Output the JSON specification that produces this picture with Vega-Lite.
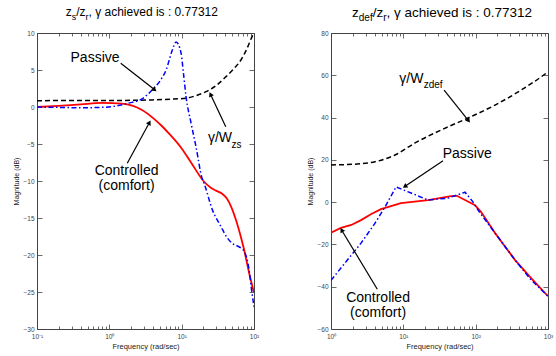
{
  "$schema": "https://vega.github.io/schema/vega-lite/v6.json",
  "background": "white",
  "padding": {"left": 12, "top": 5, "right": 0, "bottom": 0},
  "spacing": 46,
  "config": {
    "font": "Liberation Sans",
    "view": {"stroke": "#444", "strokeWidth": 1},
    "axis": {"domain": false, "grid": false, "tickColor": "#444", "tickWidth": 0.8, "labelFont": "Liberation Sans", "labelFontSize": 6.5, "labelColor": "#444", "titleFont": "Liberation Sans", "titleFontSize": 7, "titleFontWeight": "normal", "titleColor": "#222", "labelFlush": false, "labelPadding": 8, "titlePadding": 3},
    "text": {"font": "Liberation Sans"}
  },
  "datasets": {
    "leftCurves": [
      {"series": "gamma/W", "freq": 0.1, "dB": 0.86},
      {"series": "gamma/W", "freq": 1, "dB": 0.88},
      {"series": "gamma/W", "freq": 3.5, "dB": 0.95},
      {"series": "gamma/W", "freq": 7, "dB": 1.05},
      {"series": "gamma/W", "freq": 11.5, "dB": 1.2},
      {"series": "gamma/W", "freq": 16, "dB": 1.55},
      {"series": "gamma/W", "freq": 21.7, "dB": 2.07},
      {"series": "gamma/W", "freq": 30, "dB": 2.9},
      {"series": "gamma/W", "freq": 41, "dB": 4.1},
      {"series": "gamma/W", "freq": 53, "dB": 5.2},
      {"series": "gamma/W", "freq": 66, "dB": 6.35},
      {"series": "gamma/W", "freq": 80, "dB": 7.9},
      {"series": "gamma/W", "freq": 94, "dB": 9.5},
      {"series": "gamma/W", "freq": 100, "dB": 10.0},
      {"series": "Controlled", "freq": 0.1, "dB": 0.0},
      {"series": "Controlled", "freq": 0.2, "dB": 0.15},
      {"series": "Controlled", "freq": 0.4, "dB": 0.35},
      {"series": "Controlled", "freq": 0.79, "dB": 0.55},
      {"series": "Controlled", "freq": 1.5, "dB": 0.45},
      {"series": "Controlled", "freq": 2.83, "dB": -0.4},
      {"series": "Controlled", "freq": 4.15, "dB": -1.6},
      {"series": "Controlled", "freq": 5.36, "dB": -2.6},
      {"series": "Controlled", "freq": 6.7, "dB": -3.6},
      {"series": "Controlled", "freq": 10, "dB": -5.6},
      {"series": "Controlled", "freq": 14.1, "dB": -7.8},
      {"series": "Controlled", "freq": 20.4, "dB": -10.1},
      {"series": "Controlled", "freq": 25.3, "dB": -10.9},
      {"series": "Controlled", "freq": 29.9, "dB": -11.3},
      {"series": "Controlled", "freq": 36, "dB": -11.7},
      {"series": "Controlled", "freq": 42.4, "dB": -12.4},
      {"series": "Controlled", "freq": 56.5, "dB": -15.3},
      {"series": "Controlled", "freq": 65.6, "dB": -17.5},
      {"series": "Controlled", "freq": 73, "dB": -19.3},
      {"series": "Controlled", "freq": 85.5, "dB": -22.4},
      {"series": "Controlled", "freq": 100, "dB": -25.1},
      {"series": "Passive", "freq": 0.1, "dB": 0.0},
      {"series": "Passive", "freq": 0.2, "dB": -0.05},
      {"series": "Passive", "freq": 0.4, "dB": -0.1},
      {"series": "Passive", "freq": 0.79, "dB": -0.05},
      {"series": "Passive", "freq": 1.5, "dB": 0.3},
      {"series": "Passive", "freq": 1.8, "dB": 0.5},
      {"series": "Passive", "freq": 2.83, "dB": 1.1},
      {"series": "Passive", "freq": 3.12, "dB": 1.4},
      {"series": "Passive", "freq": 3.9, "dB": 2.3},
      {"series": "Passive", "freq": 5.0, "dB": 3.5},
      {"series": "Passive", "freq": 6.09, "dB": 5.0},
      {"series": "Passive", "freq": 7.43, "dB": 7.7},
      {"series": "Passive", "freq": 8.37, "dB": 8.8},
      {"series": "Passive", "freq": 9.8, "dB": 7.3},
      {"series": "Passive", "freq": 10.6, "dB": 4.5},
      {"series": "Passive", "freq": 11.5, "dB": 1.4},
      {"series": "Passive", "freq": 13.5, "dB": -2.2},
      {"series": "Passive", "freq": 15.8, "dB": -5.4},
      {"series": "Passive", "freq": 19.1, "dB": -9.6},
      {"series": "Passive", "freq": 20.4, "dB": -10.3},
      {"series": "Passive", "freq": 26.6, "dB": -13.9},
      {"series": "Passive", "freq": 35.1, "dB": -16.2},
      {"series": "Passive", "freq": 42.8, "dB": -17.7},
      {"series": "Passive", "freq": 49.8, "dB": -18.4},
      {"series": "Passive", "freq": 62.2, "dB": -18.9},
      {"series": "Passive", "freq": 73, "dB": -19.5},
      {"series": "Passive", "freq": 85.5, "dB": -22},
      {"series": "Passive", "freq": 92, "dB": -24.5},
      {"series": "Passive", "freq": 100, "dB": -27}
    ],
    "leftNotes": [
      {"label": "Passive", "freq": 0.634, "dB": 6.12},
      {"label": "Controlled\n(comfort)", "freq": 1.73, "dB": -9.19},
      {"label": "γ/W", "freq": 33.8, "dB": -4.69}
    ],
    "leftNoteSubs": [
      {"label": "zs", "freq": 57.2, "dB": -5.54}
    ],
    "leftTitle": [
      {"label": "z", "freq": 0.249, "dB": 12.34},
      {"label": "/z", "freq": 0.348, "dB": 12.34},
      {"label": ", γ achieved is : 0.77312", "freq": 0.5155, "dB": 12.34}
    ],
    "leftTitleSubs": [
      {"label": "s", "freq": 0.302, "dB": 11.8},
      {"label": "r", "freq": 0.469, "dB": 11.8}
    ],
    "leftArrows": [
      {"freq": 1.438, "dB": 5.91, "freq2": 4.15, "dB2": 2.39, "angle": 128},
      {"freq": 40.7, "dB": -2.66, "freq2": 25.3, "dB2": 1.62, "angle": -25.3},
      {"freq": 1.77, "dB": -7.61, "freq2": 3.54, "dB2": -2.2, "angle": 28.5}
    ],
    "rightCurves": [
      {"series": "gamma/W", "freq": 1, "dB": 17.6},
      {"series": "gamma/W", "freq": 2, "dB": 17.9},
      {"series": "gamma/W", "freq": 4.06, "dB": 19.1},
      {"series": "gamma/W", "freq": 7.68, "dB": 22.3},
      {"series": "gamma/W", "freq": 14.5, "dB": 28},
      {"series": "gamma/W", "freq": 33.2, "dB": 34.1},
      {"series": "gamma/W", "freq": 78.5, "dB": 39.8},
      {"series": "gamma/W", "freq": 185, "dB": 45.9},
      {"series": "gamma/W", "freq": 425, "dB": 53},
      {"series": "gamma/W", "freq": 941, "dB": 61},
      {"series": "gamma/W", "freq": 1000, "dB": 61.7},
      {"series": "Controlled", "freq": 1, "dB": -14.5},
      {"series": "Controlled", "freq": 1.37, "dB": -12.2},
      {"series": "Controlled", "freq": 1.91, "dB": -10.8},
      {"series": "Controlled", "freq": 2.6, "dB": -8.5},
      {"series": "Controlled", "freq": 3.61, "dB": -5.6},
      {"series": "Controlled", "freq": 4.91, "dB": -3.3},
      {"series": "Controlled", "freq": 9.29, "dB": -0.5},
      {"series": "Controlled", "freq": 22, "dB": 1.0},
      {"series": "Controlled", "freq": 45.7, "dB": 2.8},
      {"series": "Controlled", "freq": 55, "dB": 3.0},
      {"series": "Controlled", "freq": 98, "dB": -1.4},
      {"series": "Controlled", "freq": 119, "dB": -4.7},
      {"series": "Controlled", "freq": 185, "dB": -14.6},
      {"series": "Controlled", "freq": 351, "dB": -27.4},
      {"series": "Controlled", "freq": 584, "dB": -35.9},
      {"series": "Controlled", "freq": 1000, "dB": -44.5},
      {"series": "Passive", "freq": 1, "dB": -37},
      {"series": "Passive", "freq": 1.5, "dB": -29.5},
      {"series": "Passive", "freq": 2.6, "dB": -19.4},
      {"series": "Passive", "freq": 4.0, "dB": -10.3},
      {"series": "Passive", "freq": 5.58, "dB": -2.3},
      {"series": "Passive", "freq": 7.93, "dB": 7.2},
      {"series": "Passive", "freq": 12.8, "dB": 4.3},
      {"series": "Passive", "freq": 22, "dB": 1.0},
      {"series": "Passive", "freq": 41.5, "dB": 1.9},
      {"series": "Passive", "freq": 71.3, "dB": 4.7},
      {"series": "Passive", "freq": 90, "dB": 0.5},
      {"series": "Passive", "freq": 108, "dB": -3.8},
      {"series": "Passive", "freq": 185, "dB": -14.6},
      {"series": "Passive", "freq": 351, "dB": -27.4},
      {"series": "Passive", "freq": 584, "dB": -36.8},
      {"series": "Passive", "freq": 1000, "dB": -44.5}
    ],
    "rightNotes": [
      {"label": "γ/W", "freq": 12.92, "dB": 56.2},
      {"label": "Passive", "freq": 76.5, "dB": 20.7},
      {"label": "Controlled\n(comfort)", "freq": 4.47, "dB": -47.2}
    ],
    "rightNoteSubs": [
      {"label": "zdef", "freq": 25.8, "dB": 54.2}
    ],
    "rightTitle": [
      {"label": "z", "freq": 1.952, "dB": 87.8},
      {"label": "/z", "freq": 3.768, "dB": 87.8},
      {"label": ", γ achieved is : 0.77312", "freq": 5.857, "dB": 87.8}
    ],
    "rightTitleSubs": [
      {"label": "def", "freq": 2.42, "dB": 85.9},
      {"label": "r", "freq": 5.265, "dB": 85.9}
    ],
    "rightArrows": [
      {"freq": 36.6, "dB": 53.0, "freq2": 78.5, "dB2": 38.8, "angle": 141.3},
      {"freq": 35.4, "dB": 19.6, "freq2": 10.7, "dB2": 7.6, "angle": -123.9},
      {"freq": 4.37, "dB": -41.2, "freq2": 1.42, "dB2": -13.5, "angle": -31.1}
    ]
  },
  "hconcat": [
    {
      "width": 217,
      "height": 296,
      "resolve": {"axis": {"x": "independent", "y": "independent"}},
      "layer": [
        {
          "data": {"name": "leftCurves"},
          "transform": [{"filter": "datum.series === 'gamma/W'"}],
          "mark": {"type": "line", "color": "black", "strokeWidth": 1.5, "strokeDash": [5, 3], "clip": true, "interpolate": "monotone"},
          "encoding": {
            "x": {"field": "freq", "type": "quantitative", "scale": {"type": "log", "domain": [0.1, 100], "nice": false},
                  "axis": {"orient": "bottom", "values": [0.1, 1, 10, 100], "tickSize": -5, "labelPadding": 9, "titleFontSize": 7.5,
                           "labelExpr": "datum.value < 0.5 ? '10⁻¹' : datum.value < 5 ? '10⁰' : datum.value < 50 ? '10¹' : '10²'",
                           "title": "Frequency  (rad/sec)"}},
            "y": {"field": "dB", "type": "quantitative", "scale": {"domain": [-30, 10], "nice": false},
                  "axis": {"orient": "left", "values": [-30, -25, -20, -15, -10, -5, 0, 5, 10], "tickSize": -5, "title": "Magnitude (dB)"}}
          }
        },
        {
          "data": {"name": "leftCurves"},
          "transform": [{"filter": "datum.series === 'Controlled'"}],
          "mark": {"type": "line", "color": "#ff0000", "strokeWidth": 1.8, "clip": true, "interpolate": "monotone"},
          "encoding": {
            "x": {"field": "freq", "type": "quantitative", "scale": {"type": "log", "domain": [0.1, 100], "nice": false},
                  "axis": {"orient": "top", "values": [0.1, 1, 10, 100], "tickSize": -5, "labels": false, "title": null}},
            "y": {"field": "dB", "type": "quantitative", "scale": {"domain": [-30, 10], "nice": false},
                  "axis": {"orient": "right", "values": [-30, -25, -20, -15, -10, -5, 0, 5, 10], "tickSize": -5, "labels": false, "title": null}}
          }
        },
        {
          "data": {"name": "leftCurves"},
          "transform": [{"filter": "datum.series === 'Passive'"}],
          "mark": {"type": "line", "color": "#0000ff", "strokeWidth": 1.5, "strokeDash": [5, 2.5, 1.5, 2.5], "clip": true, "interpolate": "monotone"},
          "encoding": {
            "x": {"field": "freq", "type": "quantitative", "scale": {"type": "log", "domain": [0.1, 100], "nice": false},
                  "axis": {"orient": "bottom", "values": [0.2, 0.3, 0.4, 0.5, 0.6, 0.7, 0.8, 0.9, 2, 3, 4, 5, 6, 7, 8, 9, 20, 30, 40, 50, 60, 70, 80, 90], "tickSize": -3, "labels": false, "title": null}},
            "y": {"field": "dB", "type": "quantitative", "scale": {"domain": [-30, 10], "nice": false}, "axis": null}
          }
        },
        {
          "data": {"name": "leftNotes"},
          "mark": {"type": "text", "fontSize": 14, "align": "center", "baseline": "alphabetic", "lineBreak": "\n", "lineHeight": 15, "color": "black"},
          "encoding": {
            "x": {"field": "freq", "type": "quantitative", "scale": {"type": "log", "domain": [0.1, 100], "nice": false},
                  "axis": {"orient": "top", "values": [0.2, 0.3, 0.4, 0.5, 0.6, 0.7, 0.8, 0.9, 2, 3, 4, 5, 6, 7, 8, 9, 20, 30, 40, 50, 60, 70, 80, 90], "tickSize": -3, "labels": false, "title": null}},
            "y": {"field": "dB", "type": "quantitative", "scale": {"domain": [-30, 10], "nice": false}, "axis": null},
            "text": {"field": "label"}
          }
        },
        {
          "data": {"name": "leftNoteSubs"},
          "mark": {"type": "text", "fontSize": 10, "align": "center", "baseline": "alphabetic", "color": "black"},
          "encoding": {
            "x": {"field": "freq", "type": "quantitative", "scale": {"type": "log", "domain": [0.1, 100], "nice": false}, "axis": null},
            "y": {"field": "dB", "type": "quantitative", "scale": {"domain": [-30, 10], "nice": false}, "axis": null},
            "text": {"field": "label"}
          }
        },
        {
          "data": {"name": "leftTitle"},
          "mark": {"type": "text", "fontSize": 12, "align": "left", "baseline": "alphabetic", "color": "black"},
          "encoding": {
            "x": {"field": "freq", "type": "quantitative", "scale": {"type": "log", "domain": [0.1, 100], "nice": false}, "axis": null},
            "y": {"field": "dB", "type": "quantitative", "scale": {"domain": [-30, 10], "nice": false}, "axis": null},
            "text": {"field": "label"}
          }
        },
        {
          "data": {"name": "leftTitleSubs"},
          "mark": {"type": "text", "fontSize": 9, "align": "left", "baseline": "alphabetic", "color": "black"},
          "encoding": {
            "x": {"field": "freq", "type": "quantitative", "scale": {"type": "log", "domain": [0.1, 100], "nice": false}, "axis": null},
            "y": {"field": "dB", "type": "quantitative", "scale": {"domain": [-30, 10], "nice": false}, "axis": null},
            "text": {"field": "label"}
          }
        },
        {
          "data": {"name": "leftArrows"},
          "mark": {"type": "rule", "color": "black", "strokeWidth": 1.2},
          "encoding": {
            "x": {"field": "freq", "type": "quantitative", "scale": {"type": "log", "domain": [0.1, 100], "nice": false}, "axis": null},
            "y": {"field": "dB", "type": "quantitative", "scale": {"domain": [-30, 10], "nice": false}, "axis": null},
            "x2": {"field": "freq2"},
            "y2": {"field": "dB2"}
          }
        },
        {
          "data": {"name": "leftArrows"},
          "mark": {"type": "point", "shape": "triangle", "filled": true, "color": "black", "size": 28, "opacity": 1},
          "encoding": {
            "x": {"field": "freq2", "type": "quantitative", "scale": {"type": "log", "domain": [0.1, 100], "nice": false}, "axis": null},
            "y": {"field": "dB2", "type": "quantitative", "scale": {"domain": [-30, 10], "nice": false}, "axis": null},
            "angle": {"field": "angle", "type": "quantitative", "scale": null}
          }
        }
      ]
    },
    {
      "width": 217,
      "height": 296,
      "resolve": {"axis": {"x": "independent", "y": "independent"}},
      "layer": [
        {
          "data": {"name": "rightCurves"},
          "transform": [{"filter": "datum.series === 'gamma/W'"}],
          "mark": {"type": "line", "color": "black", "strokeWidth": 1.5, "strokeDash": [5, 3], "clip": true, "interpolate": "monotone"},
          "encoding": {
            "x": {"field": "freq", "type": "quantitative", "scale": {"type": "log", "domain": [1, 1000], "nice": false},
                  "axis": {"orient": "bottom", "values": [1, 10, 100, 1000], "tickSize": -5, "labelPadding": 9, "titleFontSize": 7.5,
                           "labelExpr": "datum.value < 5 ? '10⁰' : datum.value < 50 ? '10¹' : datum.value < 500 ? '10²' : '10³'",
                           "title": "Frequency  (rad/sec)"}},
            "y": {"field": "dB", "type": "quantitative", "scale": {"domain": [-60, 80], "nice": false},
                  "axis": {"orient": "left", "values": [-60, -40, -20, 0, 20, 40, 60, 80], "tickSize": -5, "title": "Magnitude (dB)"}}
          }
        },
        {
          "data": {"name": "rightCurves"},
          "transform": [{"filter": "datum.series === 'Controlled'"}],
          "mark": {"type": "line", "color": "#ff0000", "strokeWidth": 1.8, "clip": true},
          "encoding": {
            "x": {"field": "freq", "type": "quantitative", "scale": {"type": "log", "domain": [1, 1000], "nice": false},
                  "axis": {"orient": "top", "values": [1, 10, 100, 1000], "tickSize": -5, "labels": false, "title": null}},
            "y": {"field": "dB", "type": "quantitative", "scale": {"domain": [-60, 80], "nice": false},
                  "axis": {"orient": "right", "values": [-60, -40, -20, 0, 20, 40, 60, 80], "tickSize": -5, "labels": false, "title": null}}
          }
        },
        {
          "data": {"name": "rightCurves"},
          "transform": [{"filter": "datum.series === 'Passive'"}],
          "mark": {"type": "line", "color": "#0000ff", "strokeWidth": 1.5, "strokeDash": [5, 2.5, 1.5, 2.5], "clip": true},
          "encoding": {
            "x": {"field": "freq", "type": "quantitative", "scale": {"type": "log", "domain": [1, 1000], "nice": false},
                  "axis": {"orient": "bottom", "values": [2, 3, 4, 5, 6, 7, 8, 9, 20, 30, 40, 50, 60, 70, 80, 90, 200, 300, 400, 500, 600, 700, 800, 900], "tickSize": -3, "labels": false, "title": null}},
            "y": {"field": "dB", "type": "quantitative", "scale": {"domain": [-60, 80], "nice": false}, "axis": null}
          }
        },
        {
          "data": {"name": "rightNotes"},
          "mark": {"type": "text", "fontSize": 14, "align": "center", "baseline": "alphabetic", "lineBreak": "\n", "lineHeight": 15, "color": "black"},
          "encoding": {
            "x": {"field": "freq", "type": "quantitative", "scale": {"type": "log", "domain": [1, 1000], "nice": false},
                  "axis": {"orient": "top", "values": [2, 3, 4, 5, 6, 7, 8, 9, 20, 30, 40, 50, 60, 70, 80, 90, 200, 300, 400, 500, 600, 700, 800, 900], "tickSize": -3, "labels": false, "title": null}},
            "y": {"field": "dB", "type": "quantitative", "scale": {"domain": [-60, 80], "nice": false}, "axis": null},
            "text": {"field": "label"}
          }
        },
        {
          "data": {"name": "rightNoteSubs"},
          "mark": {"type": "text", "fontSize": 10, "align": "center", "baseline": "alphabetic", "color": "black"},
          "encoding": {
            "x": {"field": "freq", "type": "quantitative", "scale": {"type": "log", "domain": [1, 1000], "nice": false}, "axis": null},
            "y": {"field": "dB", "type": "quantitative", "scale": {"domain": [-60, 80], "nice": false}, "axis": null},
            "text": {"field": "label"}
          }
        },
        {
          "data": {"name": "rightTitle"},
          "mark": {"type": "text", "fontSize": 13.5, "align": "left", "baseline": "alphabetic", "color": "black"},
          "encoding": {
            "x": {"field": "freq", "type": "quantitative", "scale": {"type": "log", "domain": [1, 1000], "nice": false}, "axis": null},
            "y": {"field": "dB", "type": "quantitative", "scale": {"domain": [-60, 80], "nice": false}, "axis": null},
            "text": {"field": "label"}
          }
        },
        {
          "data": {"name": "rightTitleSubs"},
          "mark": {"type": "text", "fontSize": 10, "align": "left", "baseline": "alphabetic", "color": "black"},
          "encoding": {
            "x": {"field": "freq", "type": "quantitative", "scale": {"type": "log", "domain": [1, 1000], "nice": false}, "axis": null},
            "y": {"field": "dB", "type": "quantitative", "scale": {"domain": [-60, 80], "nice": false}, "axis": null},
            "text": {"field": "label"}
          }
        },
        {
          "data": {"name": "rightArrows"},
          "mark": {"type": "rule", "color": "black", "strokeWidth": 1.2},
          "encoding": {
            "x": {"field": "freq", "type": "quantitative", "scale": {"type": "log", "domain": [1, 1000], "nice": false}, "axis": null},
            "y": {"field": "dB", "type": "quantitative", "scale": {"domain": [-60, 80], "nice": false}, "axis": null},
            "x2": {"field": "freq2"},
            "y2": {"field": "dB2"}
          }
        },
        {
          "data": {"name": "rightArrows"},
          "mark": {"type": "point", "shape": "triangle", "filled": true, "color": "black", "size": 28, "opacity": 1},
          "encoding": {
            "x": {"field": "freq2", "type": "quantitative", "scale": {"type": "log", "domain": [1, 1000], "nice": false}, "axis": null},
            "y": {"field": "dB2", "type": "quantitative", "scale": {"domain": [-60, 80], "nice": false}, "axis": null},
            "angle": {"field": "angle", "type": "quantitative", "scale": null}
          }
        }
      ]
    }
  ]
}
